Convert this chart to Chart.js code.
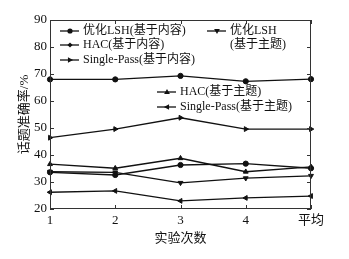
<!DOCTYPE html>
<html><head><meta charset="utf-8">
<script src="https://cdn.jsdelivr.net/npm/chart.js@4/dist/chart.umd.min.js"></script>
<style>html,body{margin:0;padding:0;background:#fff;}canvas{display:block;}</style>
</head><body>
<canvas id="c" width="349" height="259"></canvas>
<script>
const categories = ['1', '2', '3', '4', '平均'];
const yTicks = [20, 30, 40, 50, 60, 70, 80, 90];
const lshContent = [68.0, 68.0, 69.3, 67.3, 68.1];
const lshTopic = [33.8, 33.6, 29.7, 31.4, 32.3];
const hacContent = [33.6, 32.6, 36.3, 36.8, 35.1];
const hacTopic = [36.6, 35.1, 38.8, 33.8, 35.6];
const spContent = [46.4, 49.6, 53.8, 49.6, 49.6];
const spTopic = [26.2, 26.7, 23.0, 24.1, 24.8];
const seriesNames = ['优化LSH(基于内容)', '优化LSH(基于主题)', 'HAC(基于内容)', 'HAC(基于主题)', 'Single-Pass(基于内容)', 'Single-Pass(基于主题)'];

const FONT = '"Liberation Serif", "Noto Sans CJK SC", serif';
const INK = '#111';

function ds(label, data, style, rot, r) {
  return { label, data, borderColor: INK, backgroundColor: INK, borderWidth: 1.3,
    pointStyle: style, rotation: rot, pointRadius: r, pointBorderWidth: 1, tension: 0 };
}

function marker(ctx, style, rot, x, y, r) {
  ctx.save();
  ctx.translate(x, y);
  ctx.rotate(rot * Math.PI / 180);
  ctx.fillStyle = INK;
  ctx.beginPath();
  if (style === 'circle') { ctx.arc(0, 0, r, 0, Math.PI * 2); }
  else if (style === 'triangle') { ctx.moveTo(0, -r * 1.2); ctx.lineTo(r * 1.1, r * 0.8); ctx.lineTo(-r * 1.1, r * 0.8); ctx.closePath(); }
  else if (style === 'rectRot') { ctx.moveTo(0, -r); ctx.lineTo(r, 0); ctx.lineTo(0, r); ctx.lineTo(-r, 0); ctx.closePath(); }
  ctx.fill();
  ctx.restore();
}

const legendItems = [
  { x: 60, y: 31, text: '优化LSH(基于内容)', style: 'circle', rot: 0 },
  { x: 60, y: 45, text: 'HAC(基于内容)', style: 'rectRot', rot: 0 },
  { x: 60, y: 60, text: 'Single-Pass(基于内容)', style: 'triangle', rot: 90 },
  { x: 207, y: 31, text: '优化LSH', text2: '(基于主题)', style: 'triangle', rot: 180 },
  { x: 157, y: 92, text: 'HAC(基于主题)', style: 'triangle', rot: 0 },
  { x: 157, y: 107, text: 'Single-Pass(基于主题)', style: 'triangle', rot: 270 }
];

const decor = {
  id: 'decor',
  afterDatasetsDraw(chart) {
    const ctx = chart.ctx;
    const a = chart.chartArea;
    const xs = chart.scales.x, ys = chart.scales.y;
    ctx.save();
    ctx.strokeStyle = '#333';
    ctx.lineWidth = 1;
    ctx.strokeRect(a.left + 0.5, a.top + 0.5, a.right - a.left - 1, a.bottom - a.top - 1);
    // inner ticks
    ctx.beginPath();
    yTicks.forEach(v => { const py = Math.round(ys.getPixelForValue(v)) + 0.5; ctx.moveTo(a.left, py); ctx.lineTo(a.left + 4, py); ctx.moveTo(a.right, py); ctx.lineTo(a.right - 4, py); });
    categories.forEach((c, i) => { const px = Math.round(xs.getPixelForValue(i)) + 0.5; ctx.moveTo(px, a.bottom); ctx.lineTo(px, a.bottom - 4); ctx.moveTo(px, a.top); ctx.lineTo(px, a.top + 4); });
    ctx.stroke();
    // legend
    ctx.font = '12px ' + FONT;
    ctx.fillStyle = INK;
    ctx.textBaseline = 'middle';
    ctx.strokeStyle = INK;
    ctx.lineWidth = 1.3;
    legendItems.forEach(it => {
      ctx.beginPath(); ctx.moveTo(it.x, it.y); ctx.lineTo(it.x + 19, it.y); ctx.stroke();
      marker(ctx, it.style, it.rot, it.x + 10, it.y, 2.6);
      ctx.fillText(it.text, it.x + 23, it.y);
      if (it.text2) ctx.fillText(it.text2, it.x + 23, it.y + 14);
    });
    ctx.restore();
  }
};

new Chart(document.getElementById('c'), {
  type: 'line',
  data: {
    labels: categories,
    datasets: [
      ds(seriesNames[0], lshContent, 'circle', 0, 2.6),
      ds(seriesNames[1], lshTopic, 'triangle', 180, 2.8),
      ds(seriesNames[2], hacContent, 'circle', 0, 2.6),
      ds(seriesNames[3], hacTopic, 'triangle', 0, 2.8),
      ds(seriesNames[4], spContent, 'triangle', 90, 2.8),
      ds(seriesNames[5], spTopic, 'triangle', 270, 2.8)
    ]
  },
  options: {
    responsive: false,
    animation: false,
    layout: { padding: { top: 20, right: 38, left: 0, bottom: 0 } },
    plugins: { legend: { display: false }, tooltip: { enabled: false } },
    scales: {
      x: {
        offset: false,
        grid: { display: false, drawTicks: false },
        border: { display: false },
        ticks: { color: INK, font: { family: FONT, size: 13 }, padding: 4, maxRotation: 0, autoSkip: false },
        title: { display: true, text: '实验次数', color: INK, font: { family: FONT, size: 13 }, padding: { top: 2, bottom: 13 } },
        afterFit(s) { s.height = 50; }
      },
      y: {
        min: 20, max: 90,
        afterBuildTicks(s) { s.ticks = yTicks.map(v => ({ value: v })); },
        grid: { display: false, drawTicks: false },
        border: { display: false },
        ticks: { color: INK, font: { family: FONT, size: 13 }, padding: 3 },
        title: { display: true, text: '话题准确率/%', color: INK, font: { family: FONT, size: 13 }, padding: { top: 17, bottom: 0 } },
        afterFit(s) { s.width = 50; }
      }
    }
  },
  plugins: [decor]
});
</script>
</body></html>
